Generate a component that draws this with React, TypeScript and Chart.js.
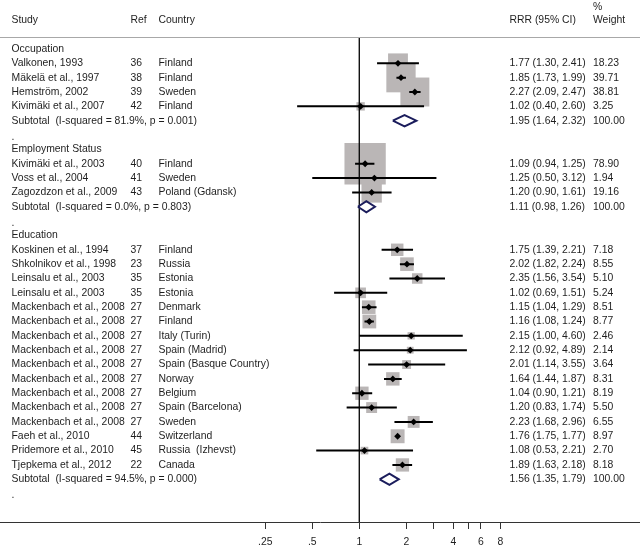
import React, { useEffect, useRef } from 'react';
import { Chart, registerables } from 'chart.js';

Chart.register(...registerables);

// ---------- data ----------
const groupNames = ['Occupation', 'Employment Status', 'Education'];

const studyGroup = [0, 0, 0, 0, 1, 1, 1, 2, 2, 2, 2, 2, 2, 2, 2, 2, 2, 2, 2, 2, 2, 2, 2];

const studyLabels = [
  'Valkonen, 1993',
  'Mäkelä et al., 1997',
  'Hemström, 2002',
  'Kivimäki et al., 2007',
  'Kivimäki et al., 2003',
  'Voss et al., 2004',
  'Zagozdzon et al., 2009',
  'Koskinen et al., 1994',
  'Shkolnikov et al., 1998',
  'Leinsalu et al., 2003',
  'Leinsalu et al., 2003',
  'Mackenbach et al., 2008',
  'Mackenbach et al., 2008',
  'Mackenbach et al., 2008',
  'Mackenbach et al., 2008',
  'Mackenbach et al., 2008',
  'Mackenbach et al., 2008',
  'Mackenbach et al., 2008',
  'Mackenbach et al., 2008',
  'Mackenbach et al., 2008',
  'Faeh et al., 2010',
  'Pridemore et al., 2010',
  'Tjepkema et al., 2012',
];

const studyRefs = ['36', '38', '39', '42', '40', '41', '43', '37', '23', '35', '35', '27', '27', '27', '27', '27', '27', '27', '27', '27', '44', '45', '22'];

const studyCountries = [
  'Finland', 'Finland', 'Sweden', 'Finland',
  'Finland', 'Sweden', 'Poland (Gdansk)',
  'Finland', 'Russia', 'Estonia', 'Estonia', 'Denmark', 'Finland', 'Italy (Turin)',
  'Spain (Madrid)', 'Spain (Basque Country)', 'Norway', 'Belgium', 'Spain (Barcelona)',
  'Sweden', 'Switzerland', 'Russia  (Izhevst)', 'Canada',
];

const studyRRR = [1.77, 1.85, 2.27, 1.02, 1.09, 1.25, 1.20, 1.75, 2.02, 2.35, 1.02, 1.15, 1.16, 2.15, 2.12, 2.01, 1.64, 1.04, 1.20, 2.23, 1.76, 1.08, 1.89];
const studyLow = [1.30, 1.73, 2.09, 0.40, 0.94, 0.50, 0.90, 1.39, 1.82, 1.56, 0.69, 1.04, 1.08, 1.00, 0.92, 1.14, 1.44, 0.90, 0.83, 1.68, 1.75, 0.53, 1.63];
const studyHigh = [2.41, 1.99, 2.47, 2.60, 1.25, 3.12, 1.61, 2.21, 2.24, 3.54, 1.51, 1.29, 1.24, 4.60, 4.89, 3.55, 1.87, 1.21, 1.74, 2.96, 1.77, 2.21, 2.18];
const studyWeight = [18.23, 39.71, 38.81, 3.25, 78.90, 1.94, 19.16, 7.18, 8.55, 5.10, 5.24, 8.51, 8.77, 2.46, 2.14, 3.64, 8.31, 8.19, 5.50, 6.55, 8.97, 2.70, 8.18];

const subtotalLabels = [
  'Subtotal  (I-squared = 81.9%, p = 0.001)',
  'Subtotal  (I-squared = 0.0%, p = 0.803)',
  'Subtotal  (I-squared = 94.5%, p = 0.000)',
];
const subtotalRRR = [1.95, 1.11, 1.56];
const subtotalLow = [1.64, 0.98, 1.35];
const subtotalHigh = [2.32, 1.26, 1.79];
const subtotalWeight = [100.0, 100.0, 100.0];

const xTickValues = [0.25, 0.5, 1, 2, 3, 4, 5, 6, 8];
const xTickLabels = ['.25', '.5', '1', '2', '', '4', '', '6', '8'];

const headerLabels = ['Study', 'Ref', 'Country', 'RRR (95% CI)', 'Weight'];
const headerTopLabel = '%';

// ---------- layout / style constants ----------
const W = 640;
const H = 546;
const X_MIN = 0.005;
const X_MAX = 62.8;
const Y_MIN = -3.416;
const Y_MAX = 32.978;
const HEADER_ROW = -2;
const HEADER_TOP_ROW = -2.95;
const HEADER_RULE_ROW = -0.82;
const DIAMOND_HALF = 0.39;
const BOX_K = 4.65;

const FONT = '10.4px "Liberation Sans", Arial, Helvetica, sans-serif';
const TEXT_COLOR = '#1e1e1e';
const COL_STUDY = 11.5;
const COL_REF = 130.5;
const COL_COUNTRY = 158.5;
const COL_RRR = 509.5;
const COL_WEIGHT = 593;

type Row = { kind: 'group' | 'study' | 'subtotal' | 'dot'; idx: number };

const rows: Row[] = [];
groupNames.forEach((_, gi) => {
  rows.push({ kind: 'group', idx: gi });
  studyGroup.forEach((sg, si) => {
    if (sg === gi) rows.push({ kind: 'study', idx: si });
  });
  rows.push({ kind: 'subtotal', idx: gi });
  rows.push({ kind: 'dot', idx: gi });
});

const fmtCI = (e: number, l: number, h: number) =>
  `${e.toFixed(2)} (${l.toFixed(2)}, ${h.toFixed(2)})`;

export default function App() {
  const canvasRef = useRef<HTMLCanvasElement | null>(null);

  useEffect(() => {
    document.body.style.margin = '0';
    const canvas = canvasRef.current;
    if (!canvas) return;

    const studyRow: number[] = [];
    const subRow: number[] = [];
    rows.forEach((r, i) => {
      if (r.kind === 'study') studyRow[r.idx] = i;
      if (r.kind === 'subtotal') subRow[r.idx] = i;
    });

    const boxData = studyRRR.map((v, i) => ({ x: v, y: studyRow[i] }));
    const boxRadius = studyWeight.map((w) => (BOX_K * Math.sqrt(w)) / Math.SQRT2);

    const ciData: { x: number; y: number | null }[] = [];
    studyLow.forEach((lo, i) => {
      ciData.push({ x: lo, y: studyRow[i] });
      ciData.push({ x: studyHigh[i], y: studyRow[i] });
      ciData.push({ x: studyHigh[i], y: null });
    });

    const diamondData: { x: number; y: number | null }[] = [];
    subtotalRRR.forEach((e, i) => {
      const r = subRow[i];
      diamondData.push({ x: subtotalLow[i], y: r });
      diamondData.push({ x: e, y: r - DIAMOND_HALF });
      diamondData.push({ x: subtotalHigh[i], y: r });
      diamondData.push({ x: e, y: r + DIAMOND_HALF });
      diamondData.push({ x: subtotalLow[i], y: r });
      diamondData.push({ x: subtotalLow[i], y: null });
    });

    const pointData = studyRRR.map((v, i) => ({ x: v, y: studyRow[i] }));

    const textPlugin = {
      id: 'forestText',
      afterDraw(chart: any) {
        const { ctx, chartArea } = chart;
        const ys = chart.scales.y;
        ctx.save();
        // header rule
        const ry = Math.round(ys.getPixelForValue(HEADER_RULE_ROW)) + 0.5;
        ctx.strokeStyle = '#a8a8a8';
        ctx.lineWidth = 1;
        ctx.beginPath();
        ctx.moveTo(chartArea.left, ry);
        ctx.lineTo(chartArea.right, ry);
        ctx.stroke();

        ctx.font = FONT;
        ctx.fillStyle = TEXT_COLOR;
        ctx.textBaseline = 'middle';
        ctx.textAlign = 'left';
        const hy = ys.getPixelForValue(HEADER_ROW);
        ctx.fillText(headerLabels[0], COL_STUDY, hy);
        ctx.fillText(headerLabels[1], COL_REF, hy);
        ctx.fillText(headerLabels[2], COL_COUNTRY, hy);
        ctx.fillText(headerLabels[3], COL_RRR, hy);
        ctx.fillText(headerLabels[4], COL_WEIGHT, hy);
        ctx.fillText(headerTopLabel, COL_WEIGHT, ys.getPixelForValue(HEADER_TOP_ROW));

        rows.forEach((r, i) => {
          const y = ys.getPixelForValue(i);
          if (r.kind === 'group') {
            ctx.fillText(groupNames[r.idx], COL_STUDY, y);
          } else if (r.kind === 'study') {
            const s = r.idx;
            ctx.fillText(studyLabels[s], COL_STUDY, y);
            ctx.fillText(studyRefs[s], COL_REF, y);
            ctx.fillText(studyCountries[s], COL_COUNTRY, y);
            ctx.fillText(fmtCI(studyRRR[s], studyLow[s], studyHigh[s]), COL_RRR, y);
            ctx.fillText(studyWeight[s].toFixed(2), COL_WEIGHT, y);
          } else if (r.kind === 'subtotal') {
            const g = r.idx;
            ctx.fillText(subtotalLabels[g], COL_STUDY, y);
            ctx.fillText(fmtCI(subtotalRRR[g], subtotalLow[g], subtotalHigh[g]), COL_RRR, y);
            ctx.fillText(subtotalWeight[g].toFixed(2), COL_WEIGHT, y);
          } else {
            ctx.fillText('.', COL_STUDY, y + 2);
          }
        });
        ctx.restore();
      },
    };

    const chart = new Chart(canvas, {
      type: 'scatter',
      data: {
        datasets: [
          {
            label: 'points',
            data: pointData,
            pointStyle: 'rectRot',
            pointRadius: 3.4,
            backgroundColor: '#000000',
            borderWidth: 0,
            order: 1,
          } as any,
          {
            label: 'subtotals',
            data: diamondData,
            showLine: true,
            pointRadius: 0,
            borderColor: '#1b1d5c',
            borderWidth: 2,
            borderJoinStyle: 'miter',
            fill: false,
            spanGaps: false,
            order: 2,
          } as any,
          {
            label: 'ci',
            data: ciData,
            showLine: true,
            pointRadius: 0,
            borderColor: '#000000',
            borderWidth: 2,
            spanGaps: false,
            order: 3,
          } as any,
          {
            label: 'null line',
            data: [
              { x: 1, y: HEADER_RULE_ROW },
              { x: 1, y: Y_MAX },
            ],
            showLine: true,
            pointRadius: 0,
            borderColor: '#000000',
            borderWidth: 1.3,
            order: 4,
          } as any,
          {
            label: 'boxes',
            data: boxData,
            pointStyle: 'rect',
            pointRadius: boxRadius,
            backgroundColor: '#bab6b6',
            borderWidth: 0,
            order: 5,
          } as any,
        ],
      },
      options: {
        responsive: false,
        animation: false,
        events: [],
        layout: { padding: 0, autoPadding: false },
        plugins: {
          legend: { display: false },
          tooltip: { enabled: false },
          title: { display: false },
        },
        scales: {
          x: {
            type: 'logarithmic',
            position: 'bottom',
            min: X_MIN,
            max: X_MAX,
            afterBuildTicks: (scale: any) => {
              scale.ticks = xTickValues.map((v) => ({ value: v }));
            },
            afterFit: (scale: any) => {
              scale.height = 24;
            },
            grid: {
              display: true,
              drawOnChartArea: false,
              drawTicks: true,
              tickLength: 7,
              color: '#333333',
              lineWidth: 1,
            },
            border: { display: true, color: '#333333', width: 1 },
            ticks: {
              autoSkip: false,
              maxRotation: 0,
              minRotation: 0,
              padding: 6.5,
              color: TEXT_COLOR,
              font: { family: '"Liberation Sans", Arial, Helvetica, sans-serif', size: 10.4 },
              callback: (value: any) => {
                const i = xTickValues.indexOf(Number(value));
                return i >= 0 ? xTickLabels[i] : '';
              },
            },
          },
          y: {
            type: 'linear',
            display: false,
            reverse: true,
            min: Y_MIN,
            max: Y_MAX,
          },
        },
      } as any,
      plugins: [textPlugin],
    });

    return () => chart.destroy();
  }, []);

  return (
    <div style={{ width: W, height: H, background: '#ffffff' }}>
      <canvas ref={canvasRef} width={W} height={H} style={{ display: 'block' }} />
    </div>
  );
}
